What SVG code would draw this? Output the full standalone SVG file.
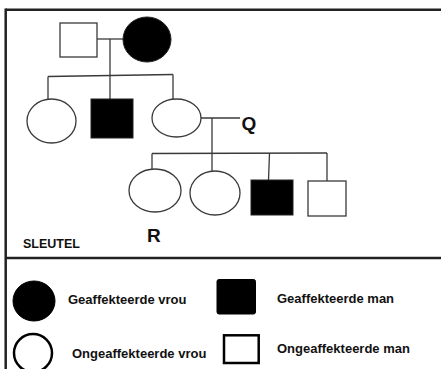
<svg xmlns="http://www.w3.org/2000/svg" width="441" height="369" viewBox="0 0 441 369">
<style>
.ln{stroke:#3a3a3a;stroke-width:1.3;fill:none}
.sh{stroke:#3a3a3a;stroke-width:1.3;fill:#fff}
.af{fill:#000;stroke:#222;stroke-width:1}
.lg{stroke:#000;stroke-width:2.5;fill:#fff}
.lf{fill:#000;stroke:#000;stroke-width:1}
.lbl{font-family:"Liberation Sans",Arial,sans-serif;font-weight:bold;font-size:19px;fill:#111}
.key{font-family:"Liberation Sans",Arial,sans-serif;font-weight:bold;font-size:13px;fill:#111}
.frame{stroke:#222;stroke-width:2.5;fill:none}
</style>
<rect width="441" height="369" fill="#fff"/>
<g id="frame">
<line class="frame" x1="5.7" y1="9.7" x2="441" y2="9.7"/>
<line class="frame" x1="5.7" y1="8.5" x2="5.7" y2="369"/>
<line class="frame" x1="5.7" y1="258" x2="441" y2="258"/>
</g>
<g id="connectors">
<line class="ln" x1="97" y1="39" x2="123" y2="39"/>
<line class="ln" x1="110" y1="39" x2="110" y2="99"/>
<line class="ln" x1="48" y1="76.5" x2="173" y2="74.5"/>
<line class="ln" x1="48" y1="76.5" x2="48" y2="100"/>
<line class="ln" x1="173" y1="74.5" x2="173" y2="99"/>
<line class="ln" x1="199" y1="118" x2="240" y2="118"/>
<line class="ln" x1="212" y1="118" x2="212" y2="153"/>
<line class="ln" x1="152" y1="153.5" x2="327" y2="153"/>
<line class="ln" x1="152" y1="153.5" x2="152" y2="169"/>
<line class="ln" x1="212" y1="153" x2="212" y2="171"/>
<line class="ln" x1="269.5" y1="153" x2="268.5" y2="180"/>
<line class="ln" x1="327" y1="153" x2="327" y2="181"/>
</g>
<g id="father"><rect class="sh" x="60" y="23" width="37" height="34"/></g>
<g id="mother"><ellipse class="af" cx="147" cy="39.5" rx="24" ry="22.5"/></g>
<g id="daughter1"><ellipse class="sh" cx="51.5" cy="121" rx="24.5" ry="22"/></g>
<g id="son1"><rect class="af" x="91" y="99" width="42" height="39"/></g>
<g id="daughter2"><ellipse class="sh" cx="176.5" cy="118" rx="24.5" ry="19"/></g>
<g id="Q"><text class="lbl" x="241.5" y="130">Q</text></g>
<g id="grandchild1"><ellipse class="sh" cx="155" cy="190.5" rx="26" ry="21.5"/></g>
<g id="grandchild2"><ellipse class="sh" cx="215" cy="193" rx="25" ry="22"/></g>
<g id="grandchild3"><rect class="af" x="251" y="180" width="42" height="35"/></g>
<g id="grandchild4"><rect class="sh" x="308" y="181" width="38" height="35"/></g>
<g id="R"><text class="lbl" x="147" y="242">R</text></g>
<g id="key-title"><text class="key" x="23" y="247.5" font-size="12.5px" style="font-size:12.5px">SLEUTEL</text></g>
<g id="key-affected-female">
<ellipse class="lf" cx="34" cy="301" rx="21" ry="20"/>
<text class="key" x="68" y="304">Geaffekteerde vrou</text>
</g>
<g id="key-affected-male">
<rect class="lf" x="217" y="279.5" width="38.5" height="34.5" rx="2"/>
<text class="key" x="277" y="303">Geaffekteerde man</text>
</g>
<g id="key-unaffected-female">
<ellipse class="lg" cx="33" cy="353" rx="19" ry="19"/>
<text class="key" x="72" y="358">Ongeaffekteerde vrou</text>
</g>
<g id="key-unaffected-male">
<rect class="lg" x="224" y="335.3" width="34.7" height="27.7"/>
<text class="key" x="277" y="353">Ongeaffekteerde man</text>
</g>
</svg>
